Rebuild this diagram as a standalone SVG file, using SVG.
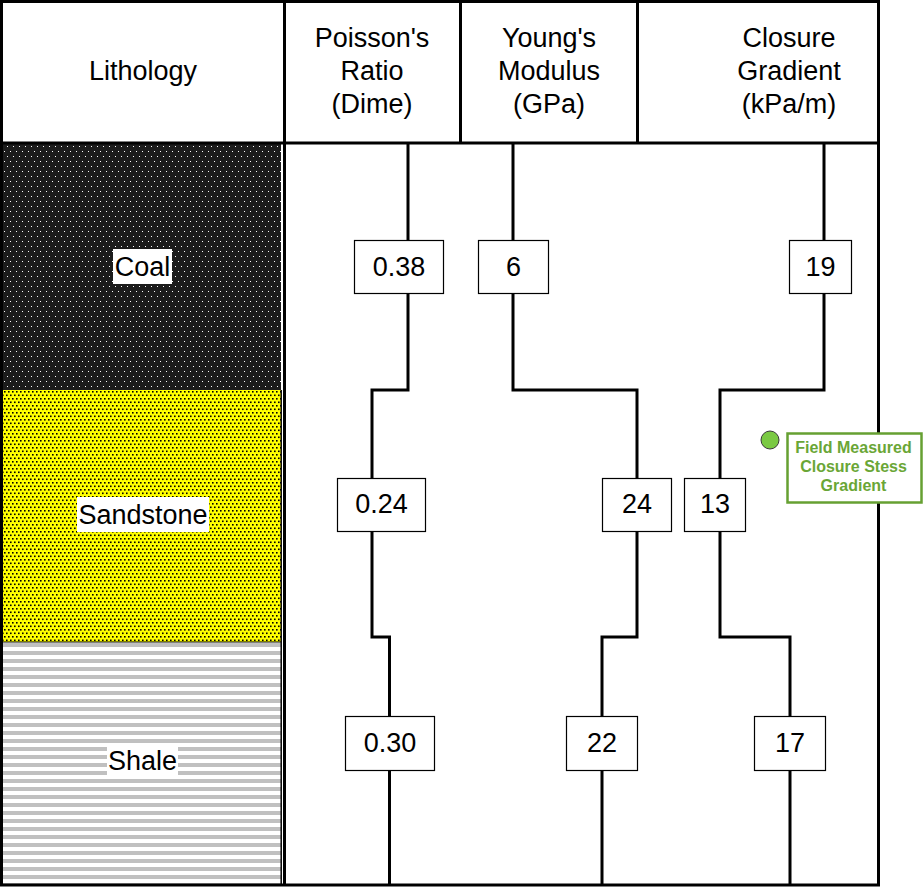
<svg xmlns="http://www.w3.org/2000/svg" width="924" height="887" viewBox="0 0 924 887">
  <defs>
    <pattern id="coalPat" x="0" y="144" width="6" height="10" patternUnits="userSpaceOnUse">
      <rect width="6" height="10" fill="#1c1c1c"/>
      <rect x="1" y="2" width="1" height="1" fill="#ffffff"/>
      <rect x="4" y="7" width="1" height="1" fill="#ffffff"/>
    </pattern>
    <pattern id="sandPat" x="0" y="390" width="4" height="7" patternUnits="userSpaceOnUse">
      <rect width="4" height="7" fill="#ffff00"/>
      <rect x="0" y="1" width="1.6" height="1.6" fill="#000000"/>
      <rect x="2" y="4.5" width="1.6" height="1.6" fill="#000000"/>
    </pattern>
    <pattern id="shalePat" x="0" y="643" width="8" height="8" patternUnits="userSpaceOnUse">
      <rect width="8" height="8" fill="#ffffff"/>
      <rect x="0" y="0" width="8" height="4" fill="#c0c0c0"/>
    </pattern>
  </defs>
  <style>
    .frame { stroke: #000; stroke-width: 3; fill: none; }
    .step { stroke: #000; stroke-width: 3; fill: none; }
    .hdr { font-family: "Liberation Sans", Arial, sans-serif; font-size: 27px; fill: #000; text-anchor: middle; }
    .val { font-family: "Liberation Sans", Arial, sans-serif; font-size: 27px; fill: #000; text-anchor: middle; }
    .vbox { fill: #fff; stroke: #000; stroke-width: 1.2; }
    .lbox { fill: #fff; stroke: none; }
    .note { font-family: "Liberation Sans", Arial, sans-serif; font-size: 16px; font-weight: bold; fill: #6aa636; text-anchor: middle; }
  </style>
  <rect x="0" y="0" width="924" height="887" fill="#ffffff"/>

  <!-- lithology fills -->
  <g id="lithology-column">
    <rect id="coal-fill" x="2" y="144" width="279" height="246" fill="url(#coalPat)"/>
    <rect id="sand-fill" x="2" y="390" width="279" height="252" fill="url(#sandPat)"/>
    <rect id="shale-fill" x="2" y="643" width="279" height="241" fill="url(#shalePat)"/>
    <line x1="281.2" y1="390" x2="281.2" y2="884" stroke="#000" stroke-width="1.5"/>
    <line x1="2" y1="642" x2="281" y2="642" stroke="#000" stroke-width="1"/>
  </g>

  <!-- frame / table grid -->
  <g id="frame">
    <rect class="frame" x="1.5" y="1.5" width="877" height="883.5"/>
    <line class="frame" x1="1.5" y1="143" x2="878.5" y2="143"/>
    <line class="frame" x1="284.5" y1="1.5" x2="284.5" y2="885"/>
    <line class="frame" x1="460.5" y1="1.5" x2="460.5" y2="143"/>
    <line class="frame" x1="637.5" y1="1.5" x2="637.5" y2="143"/>
  </g>

  <!-- header -->
  <g id="header-lithology"><text class="hdr" x="143" y="80">Lithology</text></g>
  <g id="header-poisson">
    <text class="hdr" x="372" y="47">Poisson's</text>
    <text class="hdr" x="372" y="80">Ratio</text>
    <text class="hdr" x="372" y="113">(Dime)</text>
  </g>
  <g id="header-young">
    <text class="hdr" x="549" y="47">Young's</text>
    <text class="hdr" x="549" y="80">Modulus</text>
    <text class="hdr" x="549" y="113">(GPa)</text>
  </g>
  <g id="header-closure">
    <text class="hdr" x="789" y="47">Closure</text>
    <text class="hdr" x="789" y="80">Gradient</text>
    <text class="hdr" x="789" y="113">(kPa/m)</text>
  </g>

  <!-- lithology labels -->
  <g id="label-coal"><rect class="lbox" x="113" y="249" width="59" height="35"/><text class="val" x="142.5" y="276">Coal</text></g>
  <g id="label-sandstone"><rect class="lbox" x="77" y="497" width="132" height="35"/><text class="val" x="143" y="524">Sandstone</text></g>
  <g id="label-shale"><rect class="lbox" x="107" y="743" width="71" height="35"/><text class="val" x="142.5" y="770">Shale</text></g>

  <!-- connectors (step logs) -->
  <g id="connectors">
    <path class="step" d="M408,144 V390 H372 V637 H389.5 V884"/>
    <path class="step" d="M513,144 V390 H637 V637 H602 V884"/>
    <path class="step" d="M824,144 V390 H720 V637 H790 V884"/>
  </g>

  <!-- value nodes -->
  <g id="poisson-coal"><rect class="vbox" x="354.5" y="240.5" width="89" height="53"/><text class="val" x="399" y="276">0.38</text></g>
  <g id="young-coal"><rect class="vbox" x="478.5" y="240.5" width="70" height="53"/><text class="val" x="513.5" y="276">6</text></g>
  <g id="closure-coal"><rect class="vbox" x="789.5" y="240.5" width="62" height="53"/><text class="val" x="820.5" y="276">19</text></g>

  <g id="poisson-sand"><rect class="vbox" x="337.5" y="478.5" width="88" height="53"/><text class="val" x="381.5" y="513">0.24</text></g>
  <g id="young-sand"><rect class="vbox" x="602.5" y="478.5" width="69" height="53"/><text class="val" x="637" y="513">24</text></g>
  <g id="closure-sand"><rect class="vbox" x="684.5" y="478.5" width="61" height="53"/><text class="val" x="715" y="513">13</text></g>

  <g id="poisson-shale"><rect class="vbox" x="345.5" y="716.5" width="89" height="54"/><text class="val" x="390" y="752">0.30</text></g>
  <g id="young-shale"><rect class="vbox" x="566.5" y="716.5" width="71" height="54"/><text class="val" x="602" y="752">22</text></g>
  <g id="closure-shale"><rect class="vbox" x="754.5" y="716.5" width="71" height="54"/><text class="val" x="790" y="752">17</text></g>

  <!-- field measured marker and legend -->
  <g id="field-marker"><circle cx="770" cy="440" r="9" fill="#7ac943" stroke="#3a3a3a" stroke-width="1"/></g>
  <g id="field-legend">
    <rect x="787.5" y="433.5" width="134" height="69" fill="#ffffff" stroke="#66a032" stroke-width="2.5"/>
    <text class="note" x="853.5" y="453">Field Measured</text>
    <text class="note" x="853.5" y="472">Closure Stess</text>
    <text class="note" x="853.5" y="491">Gradient</text>
  </g>
</svg>
